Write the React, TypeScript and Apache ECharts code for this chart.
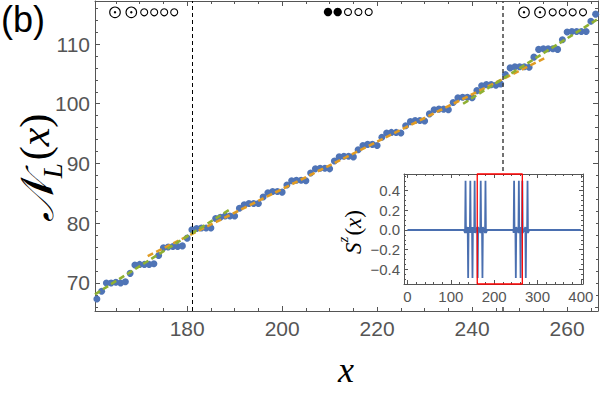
import { useEffect, useRef } from "react";
import * as echarts from "echarts";

// ---------------- data ----------------
const nX = [
  161, 162, 163, 164, 165, 166, 167, 168, 169, 170, 171, 172, 173, 174, 175, 176, 177, 178, 179, 180,
  181, 182, 183, 184, 185, 186, 187, 188, 189, 190, 191, 192, 193, 194, 195, 196, 197, 198, 199, 200,
  201, 202, 203, 204, 205, 206, 207, 208, 209, 210, 211, 212, 213, 214, 215, 216, 217, 218, 219, 220,
  221, 222, 223, 224, 225, 226, 227, 228, 229, 230, 231, 232, 233, 234, 235, 236, 237, 238, 239, 240,
  241, 242, 243, 244, 245, 246, 247, 248, 249, 250, 251, 252, 253, 254, 255, 256, 257, 258, 259, 260,
  261, 262, 263, 264, 265, 266,
];
const nValues = [
  67.3, 68.6, 70.0, 70.0, 70.1, 70.0, 70.2, 71.6, 73.0, 73.1, 73.1, 73.1, 73.2, 74.6, 75.9, 76.0, 76.1, 76.1, 76.2, 77.5,
  78.9, 79.1, 79.2, 79.2, 79.2, 80.8, 81.0, 81.2, 81.2, 81.2, 82.5, 83.1, 83.3, 83.3, 83.3, 84.4, 85.1, 85.3, 85.3, 85.2,
  86.4, 87.1, 87.2, 87.2, 87.1, 88.4, 89.1, 89.2, 89.2, 89.1, 90.4, 91.1, 91.2, 91.2, 91.1, 92.3, 93.0, 93.2, 93.2, 93.0,
  94.4, 95.1, 95.2, 95.2, 95.1, 96.3, 97.0, 97.2, 97.2, 97.1, 98.3, 99.0, 99.1, 99.1, 99.0, 100.2, 101.0, 101.1, 101.1, 101.0,
  102.2, 103.0, 103.2, 103.2, 103.1, 103.3, 104.9, 106.0, 106.2, 106.2, 106.2, 106.1, 107.8, 109.1, 109.2, 109.2, 109.2, 109.1, 110.7, 112.0,
  112.1, 112.1, 112.1, 112.1, 113.8, 115.0,
];
const orangeFitX = [171.7, 255.7];
const orangeFitY = [74.5, 107.8];
const greenFitAX = [160.6, 189.0];
const greenFitAY = [68.1, 82.3];
const greenFitBX = [238.1, 266.5];
const greenFitBY = [100.0, 114.2];
const wallX = [181, 246.4];

const mainXRange = [160.6, 266.5];
const mainYRange = [65.3, 117.2];
const mainXTicks = [180, 200, 220, 240, 260];
const mainXMinor = [165, 170, 175, 185, 190, 195, 205, 210, 215, 225, 230, 235, 245, 250, 255, 265];
const mainYTicks = [70, 80, 90, 100, 110];
const mainYMinor = [66, 68, 72, 74, 76, 78, 82, 84, 86, 88, 92, 94, 96, 98, 102, 104, 106, 108, 112, 114, 116];

// inset S^z(x)
const szX = [
  0, 130, 133, 134, 135, 139, 140, 141, 144, 145, 146, 149, 150, 151, 154, 155, 156, 161, 162, 163,
  168, 169, 170, 172, 173, 174, 179, 180, 181, 184, 244, 245, 246, 247, 249, 250, 251, 256, 257, 258,
  260, 261, 262, 264, 265, 266, 272, 273, 274, 276, 277, 278, 281, 400,
];
const szY = [
  0, 0, -0.03, 0.5, -0.03, 0.03, -0.49, 0.03, -0.03, 0.5, -0.03, 0.03, -0.49, 0.03, -0.03, 0.5, -0.03, 0.03, -0.49, 0.03,
  -0.03, 0.5, -0.03, 0.03, -0.49, 0.03, -0.03, 0.5, -0.03, 0, 0, -0.03, 0.5, -0.03, 0.03, -0.49, 0.03, -0.03, 0.5, -0.03,
  0.03, -0.49, 0.03, -0.03, 0.5, -0.03, 0.03, -0.49, 0.03, -0.03, 0.5, -0.03, 0, 0,
];
const insetXRange = [-8, 405];
const insetYRange = [-0.55, 0.57];
const insetXTicks = [0, 100, 200, 300, 400];
const insetXMinor = [20, 40, 60, 80, 120, 140, 160, 180, 220, 240, 260, 280, 320, 340, 360, 380];
const insetYTicks = [-0.4, -0.2, 0, 0.2, 0.4];
const insetYMinor = [-0.5, -0.45, -0.35, -0.3, -0.25, -0.15, -0.1, -0.05, 0.05, 0.1, 0.15, 0.25, 0.3, 0.35, 0.45, 0.5, 0.55];
const zoomWindow = [161, 265];

const phaseLeft = ["dot", "dot", "open", "open", "open", "open"];
const phaseMid = ["fill", "fill", "open", "open", "open"];
const phaseRight = ["dot", "dot", "open", "open", "open", "open"];

// ---------------- styling ----------------
const AX = "#555555";
const BLUE = "#4f74b6";
const ORANGE = "#E19C24";
const GREEN = "#8FB032";
const SANS = "Liberation Sans, Arial, sans-serif";
const SERIF = "Liberation Serif, DejaVu Serif, serif";

function frameAxis(
  gridIndex: number,
  range: number[],
  position: string,
  values: number[],
  len: number,
  showLine: boolean,
  z: number,
  label?: any
) {
  return {
    type: "value",
    gridIndex,
    min: range[0],
    max: range[1],
    position,
    silent: true,
    z,
    axisLine: { show: showLine, onZero: false, lineStyle: { color: AX, width: 1 } },
    axisTick: {
      show: true,
      inside: true,
      length: len,
      customValues: values,
      lineStyle: { color: AX, width: 1 },
    },
    axisLabel: label ? { show: true, customValues: values, ...label } : { show: false },
    splitLine: { show: false },
    splitArea: { show: false },
  };
}

function axisSet(
  gridIndex: number,
  range: number[],
  sides: string[],
  major: number[],
  minor: number[],
  majorLen: number,
  minorLen: number,
  z: number,
  label: any
) {
  return [
    frameAxis(gridIndex, range, sides[0], major, majorLen, true, z, label),
    frameAxis(gridIndex, range, sides[0], minor, minorLen, false, z),
    frameAxis(gridIndex, range, sides[1], major, majorLen, true, z),
    frameAxis(gridIndex, range, sides[1], minor, minorLen, false, z),
  ];
}

function phaseGraphics(kinds: string[], xs: number[], y: number) {
  const els: any[] = [];
  kinds.forEach((k, i) => {
    const cx = xs[i];
    if (k === "dot") {
      els.push({ type: "circle", z: 20, shape: { cx, cy: y, r: 5.3 }, style: { fill: "none", stroke: "#000", lineWidth: 1.1 } });
      els.push({ type: "circle", z: 20, shape: { cx, cy: y, r: 1.2 }, style: { fill: "#000" } });
    } else if (k === "fill") {
      els.push({ type: "circle", z: 20, shape: { cx, cy: y, r: 4.2 }, style: { fill: "#000" } });
    } else {
      els.push({ type: "circle", z: 20, shape: { cx, cy: y, r: 3.5 }, style: { fill: "none", stroke: "#000", lineWidth: 1.1 } });
    }
  });
  return els;
}

export default function App() {
  const ref = useRef<HTMLDivElement>(null);

  useEffect(() => {
    document.body.style.margin = "0";
    if (!ref.current) return;
    const chart = echarts.init(ref.current, undefined, { renderer: "svg" });

    const mainLabelX = { color: AX, fontSize: 21, fontFamily: SANS, margin: 7 };
    const mainLabelY = { color: AX, fontSize: 21, fontFamily: SANS, margin: 5 };
    const insetLabelX = { color: AX, fontSize: 15, fontFamily: SANS, margin: 5 };
    const insetLabelY = {
      color: AX,
      fontSize: 15,
      fontFamily: SANS,
      margin: 4,
      formatter: (v: number) => (v < -1e-9 ? "\u2212" : "") + Math.abs(v).toFixed(1),
    };

    const xAxes = [
      ...axisSet(0, mainXRange, ["bottom", "top"], mainXTicks, mainXMinor, 5, 3, 0, mainLabelX),
      ...axisSet(1, insetXRange, ["bottom", "top"], insetXTicks, insetXMinor, 4, 2, 9, insetLabelX),
    ];
    const yAxes = [
      ...axisSet(0, mainYRange, ["left", "right"], mainYTicks, mainYMinor, 5, 3, 0, mainLabelY),
      ...axisSet(1, insetYRange, ["left", "right"], insetYTicks, insetYMinor, 4, 2, 9, insetLabelY),
    ];

    const mainPoints = nX.map((x, i) => [x, nValues[i]]);
    const pair = (xs: number[], ys: number[]) => xs.map((x, i) => [x, ys[i]]);
    const szPoints = pair(szX, szY);
    const box = [
      [zoomWindow[0], insetYRange[0]],
      [zoomWindow[0], insetYRange[1]],
      [zoomWindow[1], insetYRange[1]],
      [zoomWindow[1], insetYRange[0]],
      [zoomWindow[0], insetYRange[0]],
    ];

    const fitLine = (data: number[][], color: string) => ({
      type: "line",
      xAxisIndex: 0,
      yAxisIndex: 0,
      data,
      showSymbol: false,
      symbol: "none",
      silent: true,
      z: 3,
      lineStyle: { color, width: 2.6, type: [6, 3.5] },
    });

    const option: any = {
      animation: false,
      grid: [
        { left: 95, top: 1, width: 503, height: 310 },
        { left: 404, top: 174, width: 179, height: 110 },
      ],
      xAxis: xAxes,
      yAxis: yAxes,
      series: [
        {
          type: "scatter",
          xAxisIndex: 0,
          yAxisIndex: 0,
          data: mainPoints,
          symbolSize: 7,
          itemStyle: { color: BLUE, opacity: 1 },
          silent: true,
          z: 2,
          markLine: {
            silent: true,
            z: 5,
            symbol: ["none", "none"],
            label: { show: false },
            data: [
              { xAxis: wallX[0], lineStyle: { color: "#000", width: 1, type: [4, 3] } },
              { xAxis: wallX[1], lineStyle: { color: "#444", width: 1.5, type: [4, 3] } },
            ],
          },
        },
        fitLine(pair(orangeFitX, orangeFitY), ORANGE),
        fitLine(pair(greenFitAX, greenFitAY), GREEN),
        fitLine(pair(greenFitBX, greenFitBY), GREEN),
        {
          type: "line",
          xAxisIndex: 4,
          yAxisIndex: 4,
          data: szPoints,
          showSymbol: false,
          symbol: "none",
          silent: true,
          z: 10,
          lineStyle: { color: "#4a6fb0", width: 1.8 },
        },
        {
          type: "line",
          xAxisIndex: 4,
          yAxisIndex: 4,
          data: box,
          showSymbol: false,
          symbol: "none",
          silent: true,
          clip: false,
          z: 11,
          lineStyle: { color: "#ff0000", width: 1.3 },
        },
      ],
      graphic: [
        { type: "rect", z: 8, silent: true, shape: { x: 360, y: 171, width: 236, height: 136 }, style: { fill: "#ffffff" } },
        {
          type: "text",
          z: 20,
          x: 1,
          y: 19,
          style: { text: "(b)", fontSize: 36, fontFamily: SANS, fill: "#000", align: "left", verticalAlign: "middle" },
        },
        {
          type: "text",
          z: 20,
          x: 40,
          y: 168,
          rotation: Math.PI / 2,
          style: {
            text: "{n|\u{1D4A9}}{l|L}{p|(}{x|x}{p|)}",
            align: "center",
            verticalAlign: "middle",
            fill: "#000",
            rich: {
              n: { fontSize: 46, lineHeight: 52, fontFamily: SERIF, fontStyle: "italic", fill: "#000", verticalAlign: "top" },
              l: { fontSize: 27, lineHeight: 27, fontFamily: SERIF, fontStyle: "italic", fill: "#000", verticalAlign: "bottom", padding: [0, 3, 0, 0] },
              p: { fontSize: 42, lineHeight: 46, fontFamily: SERIF, fill: "#000", verticalAlign: "top" },
              x: { fontSize: 42, lineHeight: 46, fontFamily: SERIF, fontStyle: "italic", fill: "#000", verticalAlign: "top" },
            },
          },
        },
        {
          type: "text",
          z: 20,
          x: 346,
          y: 370,
          style: { text: "x", fontSize: 36, fontFamily: SERIF, fontStyle: "italic", fill: "#000", align: "center", verticalAlign: "middle" },
        },
        {
          type: "text",
          z: 20,
          x: 350,
          y: 232,
          rotation: Math.PI / 2,
          style: {
            text: "{s|S}{z|z}{p|(}{x|x}{p|)}",
            align: "center",
            verticalAlign: "middle",
            fill: "#000",
            rich: {
              s: { fontSize: 23, lineHeight: 30, fontFamily: SERIF, fontStyle: "italic", fill: "#000", verticalAlign: "bottom" },
              z: { fontSize: 15, lineHeight: 16, fontFamily: SERIF, fontStyle: "italic", fill: "#000", verticalAlign: "top", padding: [0, 1, 0, 0] },
              p: { fontSize: 23, lineHeight: 30, fontFamily: SERIF, fill: "#000", verticalAlign: "bottom" },
              x: { fontSize: 23, lineHeight: 30, fontFamily: SERIF, fontStyle: "italic", fill: "#000", verticalAlign: "bottom" },
            },
          },
        },
        ...phaseGraphics(phaseLeft, [115, 131.3, 144.2, 154.2, 164.2, 174.2], 12.3),
        ...phaseGraphics(phaseMid, [328, 337.7, 348, 358.4, 368.7], 12),
        ...phaseGraphics(phaseRight, [524, 540, 552.7, 562.7, 572.7, 583], 12.3),
      ],
    };

    chart.setOption(option);
    return () => chart.dispose();
  }, []);

  return <div ref={ref} style={{ position: "absolute", left: 0, top: 0, width: 600, height: 396 }} />;
}
